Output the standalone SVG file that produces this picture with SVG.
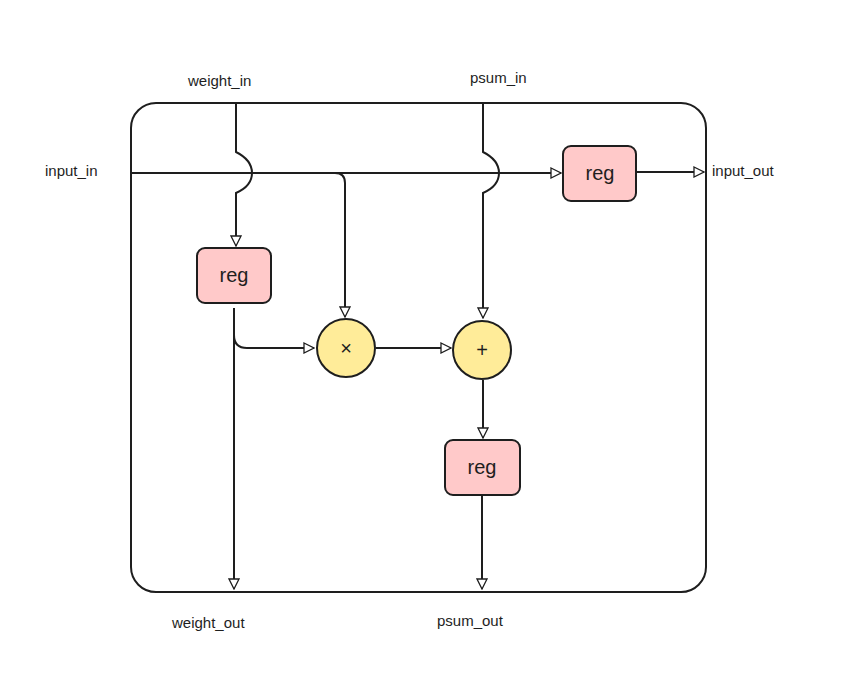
<svg xmlns="http://www.w3.org/2000/svg" width="854" height="697" viewBox="0 0 854 697">
<defs>
<marker id="a" viewBox="0 0 12 12" refX="11" refY="6" markerWidth="12" markerHeight="12" markerUnits="userSpaceOnUse" orient="auto"><path d="M1,1 L11,6 L1,11 Z" fill="#fff" stroke="#1e1e1e" stroke-width="1.3"/></marker>
</defs>
<style>
.t{font-family:"Liberation Sans",sans-serif;font-size:15px;fill:#1e1e1e}
.l{fill:none;stroke:#1e1e1e;stroke-width:2}
.reg{fill:#ffc9c9;stroke:#1e1e1e;stroke-width:2}
.op{fill:#ffec99;stroke:#1e1e1e;stroke-width:2}
.rt{font-family:"Liberation Sans",sans-serif;font-size:20px;fill:#1e1e1e;text-anchor:middle}
</style>
<rect width="854" height="697" fill="#fff"/>
<g id="frame"><rect x="131" y="103" width="575" height="489" rx="25" class="l"/></g>
<g id="connectors">
<path class="l" d="M236,104 V152 Q252,160 252,173 Q252,186 236,193 V246" marker-end="url(#a)"/>
<path class="l" d="M483,104 V152 Q499,160 499,173 Q499,186 483,193 V318" marker-end="url(#a)"/>
<path class="l" d="M132,173 H561" marker-end="url(#a)"/>
<path class="l" d="M335,173 Q345,173 345,183 V317" marker-end="url(#a)"/>
<path class="l" d="M234,308 V589" marker-end="url(#a)"/>
<path class="l" d="M234,335 Q234,348 247,348 H314" marker-end="url(#a)"/>
<path class="l" d="M376,348 H451" marker-end="url(#a)"/>
<path class="l" d="M483,380 V438" marker-end="url(#a)"/>
<path class="l" d="M482,496 V589" marker-end="url(#a)"/>
<path class="l" d="M637,172 H704" marker-end="url(#a)"/>
</g>
<g id="reg_w"><rect class="reg" x="197" y="248" width="74" height="55" rx="8"/><text class="rt" x="234" y="282">reg</text></g>
<g id="reg_in"><rect class="reg" x="563" y="146" width="73" height="55" rx="8"/><text class="rt" x="600" y="180">reg</text></g>
<g id="reg_p"><rect class="reg" x="445" y="440" width="75" height="55" rx="8"/><text class="rt" x="482" y="474">reg</text></g>
<g id="mul"><circle class="op" cx="346" cy="348" r="29"/><text class="rt" x="346" y="355">×</text></g>
<g id="add"><circle class="op" cx="482" cy="350" r="29"/><text class="rt" x="482" y="357">+</text></g>
<g id="labels">
<text class="t" x="188" y="86">weight_in</text>
<text class="t" x="470" y="83">psum_in</text>
<text class="t" x="45" y="176">input_in</text>
<text class="t" x="712" y="176">input_out</text>
<text class="t" x="172" y="628">weight_out</text>
<text class="t" x="437" y="626">psum_out</text>
</g>
</svg>
